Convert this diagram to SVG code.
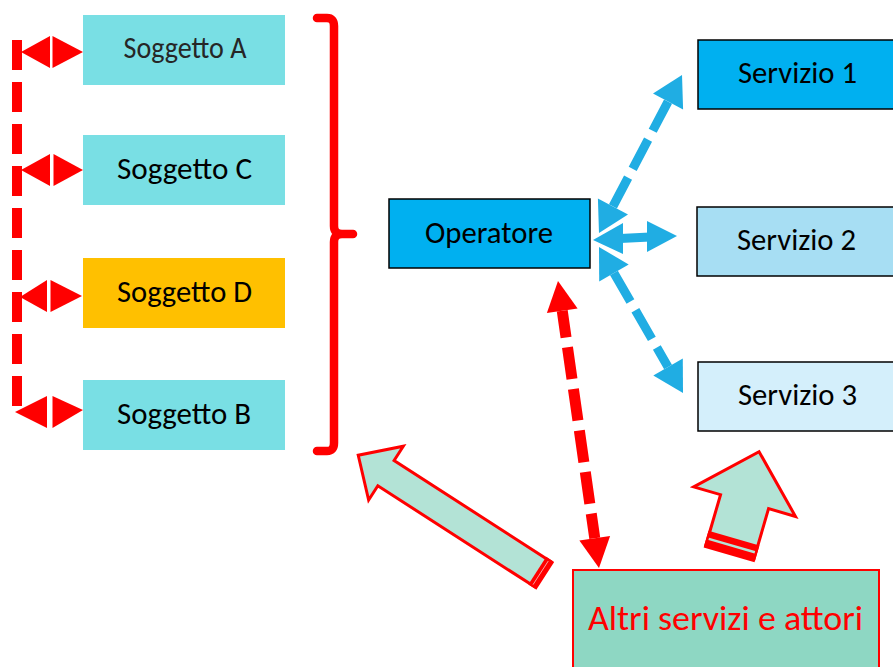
<svg xmlns="http://www.w3.org/2000/svg" width="893" height="667" viewBox="0 0 893 667">
<style>
.lbl{font-family:Carlito,Lato,"Open Sans",sans-serif;font-size:30px;fill:#000;text-anchor:middle}
.sog{fill:#79DFE4}
.srv{stroke:#000;stroke-width:1.5}
.red{fill:#FF0000}
.blue{fill:#20ADE3}
.bline{stroke:#20ADE3;stroke-width:9;fill:none}
.rline{stroke:#FF0000;fill:none}
.blk{fill:#B3E3D6;stroke:#FF0000;stroke-width:3;stroke-linejoin:miter}
</style>
<rect width="893" height="667" fill="#fff"/>

<g id="soggetto-a"><rect class="sog" x="83" y="15" width="202" height="70"/><text class="lbl" x="185" y="58" style="fill:#262626" textLength="123" lengthAdjust="spacingAndGlyphs">Soggetto A</text></g>
<g id="soggetto-c"><rect class="sog" x="83" y="135" width="202" height="70"/><text class="lbl" x="184.5" y="179" textLength="135" lengthAdjust="spacingAndGlyphs">Soggetto C</text></g>
<g id="soggetto-d"><rect x="83" y="258" width="202" height="70" fill="#FFC000"/><text class="lbl" x="184.5" y="302" textLength="135" lengthAdjust="spacingAndGlyphs">Soggetto D</text></g>
<g id="soggetto-b"><rect class="sog" x="83" y="380" width="202" height="70"/><text class="lbl" x="184" y="424" textLength="134" lengthAdjust="spacingAndGlyphs">Soggetto B</text></g>

<g id="operatore"><rect class="srv" x="389" y="199" width="201" height="69" fill="#00B0F0"/><text class="lbl" x="489" y="243" textLength="128" lengthAdjust="spacingAndGlyphs">Operatore</text></g>
<g id="servizio-1"><rect class="srv" x="698" y="40" width="220" height="69" fill="#00B0F0"/><text class="lbl" x="797.5" y="83" textLength="119" lengthAdjust="spacingAndGlyphs">Servizio 1</text></g>
<g id="servizio-2"><rect class="srv" x="697" y="207" width="220" height="69" fill="#A7DEF3"/><text class="lbl" x="796.5" y="250" textLength="119" lengthAdjust="spacingAndGlyphs">Servizio 2</text></g>
<g id="servizio-3"><rect class="srv" x="698" y="362" width="220" height="69" fill="#D4EFFB"/><text class="lbl" x="797.5" y="405" textLength="119" lengthAdjust="spacingAndGlyphs">Servizio 3</text></g>

<g id="altri"><rect x="573" y="570" width="306" height="110" fill="#8ED7C3" stroke="#FF0000" stroke-width="2"/><text class="lbl" x="725.5" y="630" style="fill:#FF0000;font-size:34px" textLength="275" lengthAdjust="spacingAndGlyphs">Altri servizi e attori</text></g>

<g id="bracket"><path class="rline" stroke-width="8.5" stroke-linecap="round" stroke-linejoin="round" d="M317,18 L327,18 Q334,18 334,26 L334,226 Q334,234 342,234 L353,234 M342,234 Q334,234 334,242 L334,443 Q334,451 327,451 L317,451"/></g>

<g id="connectors">
  <line class="rline" x1="17" y1="40" x2="17" y2="408" stroke-width="10" stroke-dasharray="30 12"/>
  <polygon class="red" points="21,52 50,36 50,68"/><polygon class="red" points="52.5,36 52.5,68 83,52"/>
  <polygon class="red" points="21,170 50,154 50,186"/><polygon class="red" points="53.5,154 53.5,186 83,170"/>
  <polygon class="red" points="20,297 47,280 47,312"/><polygon class="red" points="50.5,280 50.5,312 82,296"/>
  <polygon class="red" points="15,412 47,396 47,428"/><polygon class="red" points="52.5,396 52.5,428 83,410"/>

  <line class="bline" x1="668.05" y1="101.55" x2="612.95" y2="206.45" stroke-dasharray="33 10"/>
  <polygon class="blue" points="682,75 683.1,109.5 653,93.6"/>
  <polygon class="blue" points="599,233 628,214.4 597.9,198.6"/>

  <line class="bline" x1="620" y1="238.5" x2="650" y2="237" stroke-width="10"/>
  <polygon class="blue" points="593,240 623,223 623,254"/>
  <polygon class="blue" points="677,236 647,221 647,252"/>

  <line class="bline" x1="613.96" y1="273" x2="668.04" y2="367" stroke-dasharray="33 10"/>
  <polygon class="blue" points="599,247 628.7,264.5 599.2,281.5"/>
  <polygon class="blue" points="683,393 682.8,358.5 653.3,375.5"/>

  <line class="rline" x1="562.24" y1="310.7" x2="594.76" y2="538.3" stroke-width="11" stroke-dasharray="32 10" stroke-dashoffset="5"/>
  <polygon class="red" points="558,281 577.6,308.5 546.9,312.9"/>
  <polygon class="red" points="599,568 610.1,536.1 579.4,540.5"/>

  <g transform="translate(544,575) rotate(212.8)">
    <polygon class="blk" points="0,-15 188,-15 188,-32 221,0 188,32 188,15 0,15"/>
    <rect x="0" y="-16.5" width="8" height="33" fill="#FF0000"/>
    <line x1="4" y1="-14" x2="4" y2="14" stroke="#F6B4B4" stroke-width="0.8"/>
  </g>
  <g transform="translate(729.5,553.5) rotate(-73.8)">
    <polygon class="blk" points="0,-25 54,-25 54,-53 106,0 54,53 54,25 0,25"/>
    <rect x="0" y="-26.5" width="16" height="53" fill="#FF0000"/>
    <rect x="7" y="-24" width="2.5" height="48" fill="#B3E3D6"/>
  </g>
</g>
</svg>
